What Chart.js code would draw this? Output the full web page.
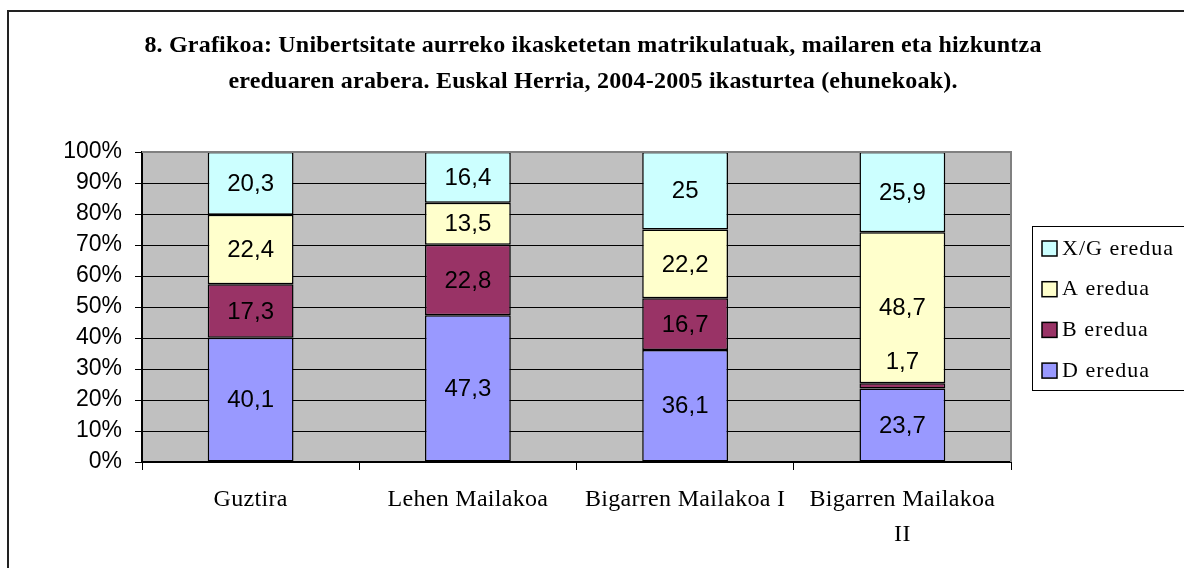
<!DOCTYPE html>
<html>
<head>
<meta charset="utf-8">
<script src="https://cdn.jsdelivr.net/npm/chart.js@4/dist/chart.umd.min.js"></script>
<style>
  body { margin: 0; background: #fff; }
</style>
</head>
<body>
<canvas id="myChart" width="1184" height="568"></canvas>
<script>
// data
var categories = ['Guztira', 'Lehen Mailakoa', 'Bigarren Mailakoa I', ['Bigarren Mailakoa', 'II']];
var dEredua  = [40.1, 47.3, 36.1, 23.7];
var bEredua  = [17.3, 22.8, 16.7, 1.7];
var aEredua  = [22.4, 13.5, 22.2, 48.7];
var xgEredua = [20.3, 16.4, 25, 25.9];
var seriesNames = ['D eredua', 'B eredua', 'A eredua', 'X/G eredua'];
var yTicks = [0, 10, 20, 30, 40, 50, 60, 70, 80, 90, 100];
var titleLines = [
  '8. Grafikoa: Unibertsitate aurreko ikasketetan matrikulatuak, mailaren eta hizkuntza',
  'ereduaren arabera. Euskal Herria, 2004-2005 ikasturtea (ehunekoak).'
];

var allSeries = [dEredua, bEredua, aEredua, xgEredua];
var colors = ['#9999FF', '#993366', '#FFFFCC', '#CCFFFF'];

// 100% stacked: scale each column to its total
var totals = categories.map(function(c, i){
  var s = 0;
  allSeries.forEach(function(arr){ s += arr[i]; });
  return s;
});

var datasets = allSeries.map(function(arr, k){
  return {
    label: seriesNames[k],
    raw: arr,
    data: arr.map(function(v, i){ return v / totals[i] * 100; }),
    backgroundColor: colors[k],
    borderColor: '#000',
    borderWidth: 1.5,
    borderSkipped: false
  };
});

var serif = '"Liberation Serif", "Times New Roman", serif';
var sans = '"Liberation Sans", Arial, sans-serif';

var chartBits = {
  id: 'chartBits',
  beforeDraw: function(chart){
    var ctx = chart.ctx, a = chart.chartArea;
    ctx.save();
    ctx.fillStyle = '#fff';
    ctx.fillRect(0, 0, chart.width, chart.height);
    ctx.fillStyle = '#C0C0C0';
    ctx.fillRect(a.left, a.top, a.right - a.left, a.bottom - a.top);
    ctx.restore();
  },
  afterDatasetsDraw: function(chart){
    var ctx = chart.ctx, a = chart.chartArea;
    ctx.save();
    // plot border, top and right
    ctx.strokeStyle = '#808080';
    ctx.lineWidth = 2;
    ctx.beginPath();
    ctx.moveTo(a.left, a.top);
    ctx.lineTo(a.right, a.top);
    ctx.lineTo(a.right, a.bottom);
    ctx.stroke();

    // value labels
    ctx.font = '24px ' + sans;
    ctx.fillStyle = '#000';
    ctx.textAlign = 'center';
    ctx.textBaseline = 'middle';
    chart.data.datasets.forEach(function(ds, k){
      var meta = chart.getDatasetMeta(k);
      meta.data.forEach(function(bar, i){
        var h = Math.abs(bar.base - bar.y);
        var y = (bar.y + bar.base) / 2;
        if (h < 20) y = bar.y - 22;
        ctx.fillText(String(ds.raw[i]).replace('.', ','), bar.x, y + 1);
      });
    });

    // category labels under the x axis
    var xs = chart.scales.x;
    ctx.font = '24px ' + serif;
    ctx.letterSpacing = '0.3px';
    chart.data.labels.forEach(function(lab, i){
      var lines = Array.isArray(lab) ? lab : [lab];
      var px = xs.getPixelForValue(i);
      lines.forEach(function(t, j){
        ctx.fillText(t, px, 500 + j * 35);
      });
    });
    ctx.restore();
  },
  afterDraw: function(chart){
    var ctx = chart.ctx;
    ctx.save();
    // outer frame
    ctx.strokeStyle = '#222';
    ctx.lineWidth = 2;
    ctx.strokeRect(8, 11, 1200, 600);

    // title
    ctx.fillStyle = '#000';
    ctx.font = 'bold 24px ' + serif;
    ctx.letterSpacing = '0.2px';
    ctx.textAlign = 'center';
    ctx.textBaseline = 'middle';
    ctx.fillText(titleLines[0], 593, 46);
    ctx.fillText(titleLines[1], 593, 82);

    // legend, top item is last series
    ctx.letterSpacing = '1px';
    ctx.lineWidth = 1;
    ctx.strokeStyle = '#000';
    ctx.strokeRect(1032.5, 226.5, 170, 164);
    ctx.font = '22px ' + serif;
    ctx.textAlign = 'left';
    var n = chart.data.datasets.length;
    for (var j = 0; j < n; j++){
      var ds = chart.data.datasets[n - 1 - j];
      var cy = 248 + j * 40.7;
      ctx.fillStyle = ds.backgroundColor;
      ctx.fillRect(1042, cy - 7, 15, 15);
      ctx.lineWidth = 1.5;
      ctx.strokeRect(1042, cy - 7, 15, 15);
      ctx.fillStyle = '#000';
      ctx.fillText(ds.label, 1062, cy + 1);
    }
    ctx.restore();
  }
};

var ctx = document.getElementById('myChart').getContext('2d');
var myChart = new Chart(ctx, {
  type: 'bar',
  data: {
    labels: categories,
    datasets: datasets
  },
  options: {
    responsive: false,
    animation: false,
    layout: { padding: { top: 152, right: 173, left: 0, bottom: 0 } },
    plugins: {
      legend: { display: false },
      title: { display: false },
      tooltip: { enabled: false }
    },
    datasets: {
      bar: { categoryPercentage: 1, barPercentage: 0.395 }
    },
    scales: {
      x: {
        stacked: true,
        afterFit: function(s){ s.height = 106; },
        grid: { offset: true, drawOnChartArea: false, color: '#000', tickLength: 8, lineWidth: 1 },
        border: { color: '#000', width: 2 },
        ticks: { display: false }
      },
      y: {
        stacked: true,
        min: 0,
        max: 100,
        afterFit: function(s){ s.width = 142; },
        afterBuildTicks: function(s){ s.ticks = yTicks.map(function(v){ return { value: v }; }); },
        grid: { color: '#000', tickLength: 7, lineWidth: 1 },
        border: { color: '#000', width: 2 },
        ticks: {
          color: '#000',
          padding: 13,
          font: { family: sans, size: 23 },
          callback: function(v){ return v + '%'; }
        }
      }
    }
  },
  plugins: [chartBits]
});
</script>
</body>
</html>
